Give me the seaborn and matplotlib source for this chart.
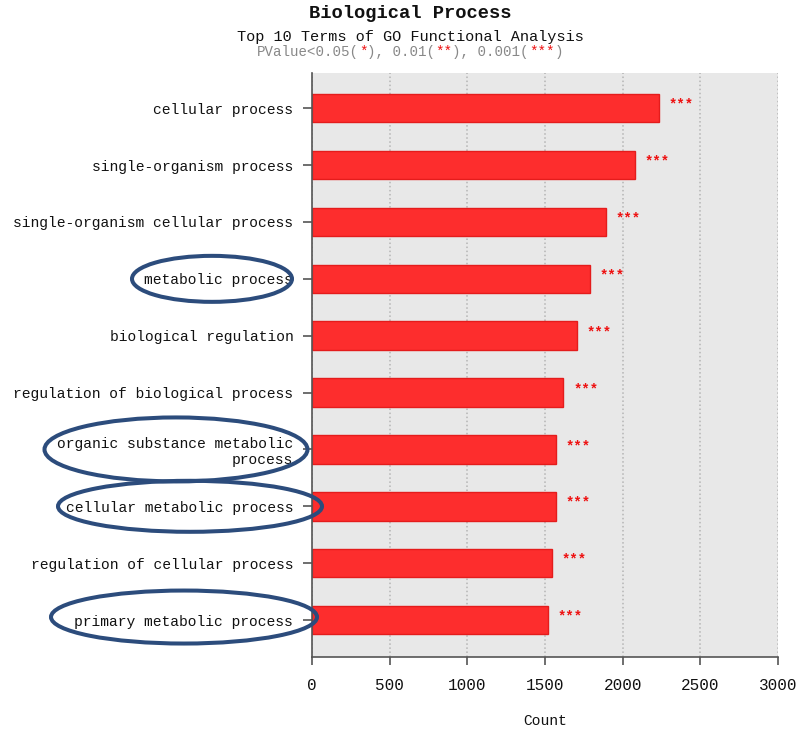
import numpy as np
import pandas as pd
import matplotlib
matplotlib.use('Agg')
import matplotlib.pyplot as plt
import seaborn as sns
from matplotlib.patches import Ellipse

# GO terms (top to bottom) and their gene counts
terms = ['cellular process',
         'single-organism process',
         'single-organism cellular process',
         'metabolic process',
         'biological regulation',
         'regulation of biological process',
         'organic substance metabolic\nprocess',
         'cellular metabolic process',
         'regulation of cellular process',
         'primary metabolic process']
counts = [2235, 2077, 1890, 1787, 1703, 1619, 1570, 1568, 1545, 1519]
signif = ['***'] * 10
x_ticks = [0, 500, 1000, 1500, 2000, 2500, 3000]

# terms circled in the figure
highlighted = ['metabolic process',
               'organic substance metabolic\nprocess',
               'cellular metabolic process',
               'primary metabolic process']

df = pd.DataFrame({'term': terms, 'count': counts})

sns.set_theme(style='white')
plt.rcParams['font.family'] = ['Liberation Mono', 'DejaVu Sans Mono']

W, H = 800, 733
fig = plt.figure(figsize=(W / 100, H / 100), dpi=100)
ax = fig.add_axes([312 / W, 1 - 657 / H, (778 - 312) / W, (657 - 73) / H])
ax.set_facecolor('#e8e8e8')

sns.barplot(data=df, x='count', y='term', orient='h', color='#fd2d2d',
            saturation=1, width=0.5, edgecolor='#e41c1c', linewidth=1, ax=ax)

ax.set_xlim(0, 3000)
ax.set_ylim(9.65, -0.62)
ax.set_xticks(x_ticks)
ax.set_axisbelow(True)
ax.xaxis.grid(True, linestyle=':', color='#b4b4b4', linewidth=1.1)

for side in ['top', 'right']:
    ax.spines[side].set_visible(False)
for side in ['left', 'bottom']:
    ax.spines[side].set_color('#555555')
    ax.spines[side].set_linewidth(1.2)

ax.tick_params(axis='y', length=6.5, width=1.2, color='#555555', pad=7,
               labelsize=10.5, labelcolor='#111111', left=True)
ax.tick_params(axis='x', length=6, width=1.2, color='#555555', pad=9,
               labelsize=11.5, labelcolor='#111111', bottom=True)
ax.set_ylabel('')
ax.set_xlabel('Count', fontsize=10.5, labelpad=15, color='#111111')

# significance stars next to each bar
for i, (c, s) in enumerate(zip(counts, signif)):
    ax.annotate(s, xy=(c, i), xytext=(7, 2.5), textcoords='offset points',
                ha='left', va='center', color='#ee1111', fontsize=10,
                weight='bold')

# titles
fig.text(0.5125, 1 - 13 / H, 'Biological Process', ha='center', va='center',
         fontsize=13.5, weight='bold', color='#111111')
fig.text(0.5125, 1 - 37 / H, 'Top 10 Terms of GO Functional Analysis',
         ha='center', va='center', fontsize=11, color='#111111')

pieces = [('PValue<0.05(', '#888888'), ('*', '#ee1111'), ('), 0.01(', '#888888'),
          ('**', '#ee1111'), ('), 0.001(', '#888888'), ('***', '#ee1111'), (')', '#888888')]
fs = 10.2
cw = fs * 0.6
total = sum(len(p) for p, _ in pieces)
pos = 0
for p, col in pieces:
    fig.text(0.5125, 1 - 52 / H, p, ha='left', va='center', fontsize=fs, color=col,
             transform=fig.transFigure)
    fig.texts[-1].set_transform(
        fig.transFigure + matplotlib.transforms.ScaledTranslation(
            (-total / 2 + pos) * cw / 72, 0, fig.dpi_scale_trans))
    pos += len(p)

# circles around highlighted labels (x centre px, y shift px, width px, height px)
ell_geom = {'metabolic process': (212, 0, 160, 46),
            'organic substance metabolic\nprocess': (176, 0, 263, 64),
            'cellular metabolic process': (190, 0, 264, 51),
            'primary metabolic process': (184, 3, 266, 53)}
for t in highlighted:
    idx = terms.index(t)
    cx, dy, ew, eh = ell_geom[t]
    y_disp = ax.transData.transform((0, idx))[1]
    e = Ellipse((cx / 100, (y_disp + dy) / 100), ew / 100, eh / 100,
                transform=fig.dpi_scale_trans, fill=False,
                edgecolor='#2c4c7c', linewidth=2.9)
    fig.add_artist(e)

fig.savefig('out.png', dpi=100, facecolor='white')
